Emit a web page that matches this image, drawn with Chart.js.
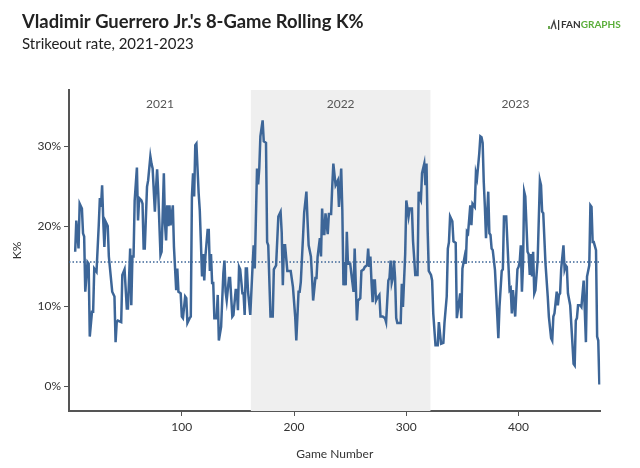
<!DOCTYPE html>
<html>
<head>
<meta charset="utf-8">
<script src="https://cdn.jsdelivr.net/npm/chart.js@4.4.1/dist/chart.umd.min.js"></script>
<style>
  html, body { margin: 0; padding: 0; background: #ffffff; }
  #wrap { width: 640px; height: 468px; position: relative; }
</style>
</head>
<body>
<div id="wrap"><canvas id="c" width="640" height="468"></canvas></div>
<script>
// ---- Data ----
const games = [
  5,6,8,9,11,12,13,14,16,17,18,20,21,22,24,26,27,28,29,30,31,32,34,35,38,40,41,42,43,46,
  47,49,51,52,54,55,56,57,58,60,61,62,64,65,66,67,69,70,72,73,74,76,77,78,79,81,82,84,85,86,
  87,88,89,90,92,93,95,96,97,99,100,101,103,104,105,107,108,109,110,111,112,113,115,116,117,118,119,120,121,123,
  124,125,126,127,128,129,131,132,133,135,137,138,139,140,142,143,145,146,148,149,150,151,152,154,155,156,157,158,159,161,
  163,164,165,167,168,169,170,172,173,175,176,177,179,181,182,184,186,188,189,190,191,192,194,197,199,201,202,204,205,206,
  208,209,211,212,213,215,216,217,219,220,221,223,224,225,226,227,228,230,231,233,234,235,237,239,240,242,243,244,245,246,
  247,248,250,251,253,254,256,257,259,260,262,263,265,266,267,268,269,270,271,272,273,274,276,277,279,281,282,284,285,286,
  287,288,289,290,291,292,295,296,297,299,300,302,303,305,306,308,310,311,312,313,314,316,317,318,319,320,322,323,
  324,326,328,329,331,333,334,336,337,338,339,341,342,344,345,348,349,350,352,353,354,355,357,358,359,361,362,363,365,366,
  367,368,369,370,371,373,374,375,376,377,379,381,382,383,385,386,387,389,390,392,393,394,395,397,399,400,401,402,403,404,
  405,406,408,409,410,411,412,413,414,415,417,419,420,421,422,424,426,427,429,430,431,432,434,435,436,437,438,440,441,442,
  443,444,446,448,449,450,451,452,453,455,456,458,459,460,461,463,464,465,466,467,469,470,471,472
];
const kPct = [
  16.8,20.7,17.2,22.8,22.2,19.1,18.7,11.8,15.5,15.3,6.2,9.3,9.3,14.7,14.3,20.1,23.5,22.4,25.1,20.7,17.4,20.6,20.0,16.2,11.8,11.2,5.5,8.0,8.2,8.0,
  13.9,14.6,9.7,9.7,17.2,10.1,16.2,16.2,23.2,27.3,20.7,23.5,23.2,22.8,17.2,17.2,24.9,25.7,28.7,27.8,27.2,21.8,24.7,27.1,24.2,16.4,16.8,26.6,20.3,18.2,
  22.6,20.0,22.6,20.1,22.6,17.4,12.0,14.7,11.8,11.6,8.7,8.5,11.2,11.0,7.9,8.5,8.7,23.7,26.6,23.7,30.1,30.3,24.1,22.0,18.0,13.7,16.5,13.2,16.2,19.5,
  19.5,14.4,16.5,12.9,12.9,8.5,8.5,11.4,5.7,7.4,14.1,15.7,11.8,10.7,13.5,13.5,8.7,8.9,12.0,12.0,9.5,14.9,14.6,11.6,11.6,8.9,14.7,14.7,11.8,8.9,
  14.9,17.6,14.7,27.2,25.2,27.2,31.2,33.2,30.6,30.4,18.0,17.6,8.7,8.7,14.6,15.1,21.2,21.8,19.2,12.6,17.6,17.6,14.4,14.4,12.4,8.7,5.7,11.8,11.8,13.0,
  18.7,21.7,24.3,20.7,17.6,16.2,13.7,10.7,13.5,13.5,16.2,18.5,16.2,22.2,19.0,19.0,21.6,19.0,21.5,21.5,24.9,27.8,25.1,25.7,22.4,27.2,22.0,12.6,15.5,12.6,
  19.3,15.3,15.3,14.1,11.8,17.2,8.2,10.7,11.0,14.4,14.6,14.9,15.1,17.2,14.9,16.2,13.0,10.5,13.2,13.2,10.7,11.0,11.4,8.7,8.7,8.5,8.0,13.2,13.5,15.7,
  12.9,13.5,15.7,13.5,8.5,7.9,7.9,12.8,9.9,16.5,23.2,21.2,22.2,22.2,18.1,13.9,13.9,24.3,23.5,23.2,26.6,27.8,25.1,27.8,19.5,14.4,13.9,13.2,
  9.1,5.1,5.1,8.0,5.3,5.4,7.9,11.2,17.2,18.0,21.2,20.6,18.1,17.9,8.5,11.6,8.5,14.7,16.2,15.3,19.3,19.1,22.6,20.1,22.8,22.4,26.6,26.0,29.1,31.2,
  31.1,30.4,25.5,22.4,18.5,24.3,19.1,18.9,17.2,17.0,14.5,8.9,6.0,9.9,14.4,14.6,21.2,21.2,18.2,12.0,12.2,9.1,12.0,8.7,14.6,14.9,15.5,17.6,11.8,15.3,
  24.3,23.7,16.8,16.5,13.9,16.5,13.7,16.8,11.6,12.0,15.7,25.7,25.1,21.8,21.6,15.3,11.2,8.7,6.0,5.7,8.7,9.1,11.8,10.1,11.4,11.6,14.7,17.6,14.6,15.1,
  14.9,11.6,10.1,5.3,2.8,2.6,8.2,8.5,10.1,10.1,9.9,13.2,9.5,5.5,13.7,15.1,22.6,22.4,18.0,18.0,17.0,6.2,5.7,0.2
];
const meanK = 15.5;
const seasons = ['2021', '2022', '2023'];
const seasonEdges = [-0.5, 161.5, 321.5, 473];
const xTicks = [100, 200, 300, 400];
const yTicks = [0, 10, 20, 30];

const FONT = 'Lato, "Open Sans", sans-serif';
const LINE = '#3d6698';

const decor = {
  id: 'decor',
  beforeDatasetsDraw(chart) {
    const { ctx, chartArea: a, scales: { x } } = chart;
    ctx.save();
    const x1 = x.getPixelForValue(seasonEdges[1]);
    const x2 = x.getPixelForValue(seasonEdges[2]);
    ctx.fillStyle = '#efefef';
    ctx.fillRect(x1, a.top, x2 - x1, a.bottom - a.top);
    ctx.fillStyle = '#555555';
    ctx.font = '12px ' + FONT;
    ctx.textAlign = 'center';
    ctx.textBaseline = 'middle';
    for (let i = 0; i < seasons.length; i++) {
      const cx = (x.getPixelForValue(seasonEdges[i]) + x.getPixelForValue(seasonEdges[i + 1])) / 2;
      ctx.fillText(seasons[i], cx, a.top + 14);
    }
    ctx.restore();
  },
  afterDraw(chart) {
    const { ctx, chartArea: a } = chart;
    ctx.save();
    ctx.fillStyle = '#222222';
    ctx.textAlign = 'left';
    ctx.textBaseline = 'alphabetic';
    ctx.font = 'bold 18.4px ' + FONT;
    ctx.fillText("Vladimir Guerrero Jr.'s 8-Game Rolling K%", 22, 28);
    ctx.font = '15px ' + FONT;
    ctx.fillText('Strikeout rate, 2021-2023', 22, 49);
    // axis titles
    ctx.fillStyle = '#333333';
    ctx.font = '12px ' + FONT;
    ctx.textAlign = 'center';
    ctx.textBaseline = 'middle';
    ctx.fillText('Game Number', (a.left + a.right) / 2, 454);
    ctx.save();
    ctx.translate(17, (a.top + a.bottom) / 2);
    ctx.rotate(-Math.PI / 2);
    ctx.fillText('K%', 0, 0);
    ctx.restore();
    // logo
    ctx.textAlign = 'left';
    ctx.textBaseline = 'middle';
    ctx.font = 'bold 10px ' + FONT;
    const lx = 556, ly = 25;
    ctx.fillStyle = '#6aa84f';
    ctx.fillRect(lx - 8, ly + 1, 2, 3);
    ctx.strokeStyle = '#444';
    ctx.lineWidth = 1.4;
    ctx.beginPath();
    ctx.moveTo(lx - 5, ly + 4); ctx.lineTo(lx - 2, ly - 4); ctx.lineTo(lx, ly + 4);
    ctx.stroke();
    ctx.fillStyle = '#333333';
    ctx.fillRect(lx + 2, ly - 5, 1.2, 10);
    ctx.fillText('FAN', lx + 5, ly);
    const w = ctx.measureText('FAN').width;
    ctx.fillStyle = '#5aae3a';
    ctx.fillText('GRAPHS', lx + 5 + w, ly);
    ctx.restore();
  }
};

new Chart(document.getElementById('c'), {
  type: 'line',
  data: {
    datasets: [
      {
        data: games.map((g, i) => ({ x: g, y: kPct[i] })),
        borderColor: LINE,
        borderWidth: 2.5,
        pointRadius: 0,
        tension: 0,
        fill: false,
        order: 1
      },
      {
        data: [{ x: seasonEdges[0], y: meanK }, { x: seasonEdges[3], y: meanK }],
        borderColor: LINE,
        borderWidth: 1.5,
        borderDash: [1.5, 2],
        pointRadius: 0,
        fill: false,
        order: 2
      }
    ]
  },
  options: {
    responsive: false,
    animation: false,
    events: [],
    layout: { padding: { left: 0, right: 39.5, top: 90, bottom: 0 } },
    plugins: { legend: { display: false }, tooltip: { enabled: false }, title: { display: false } },
    scales: {
      x: {
        type: 'linear',
        min: seasonEdges[0],
        max: seasonEdges[3],
        afterFit(s) { s.height = 57; },
        afterBuildTicks(s) { s.ticks = xTicks.map(v => ({ value: v })); },
        grid: { display: true, drawOnChartArea: false, drawTicks: true, tickLength: 5, color: '#555555', lineWidth: 1 },
        border: { display: true, color: '#555555', width: 2 },
        ticks: { color: '#333333', font: { family: FONT, size: 12 }, padding: 4, maxRotation: 0 }
      },
      y: {
        type: 'linear',
        min: -3.1,
        max: 37,
        afterFit(s) { s.width = 69; },
        afterBuildTicks(s) { s.ticks = yTicks.map(v => ({ value: v })); },
        grid: { display: true, drawOnChartArea: false, drawTicks: true, tickLength: 5, color: '#555555', lineWidth: 1 },
        border: { display: true, color: '#555555', width: 2 },
        ticks: { color: '#333333', font: { family: FONT, size: 12 }, padding: 3, callback: v => v + '%' }
      }
    }
  },
  plugins: [decor]
});
</script>
</body>
</html>
